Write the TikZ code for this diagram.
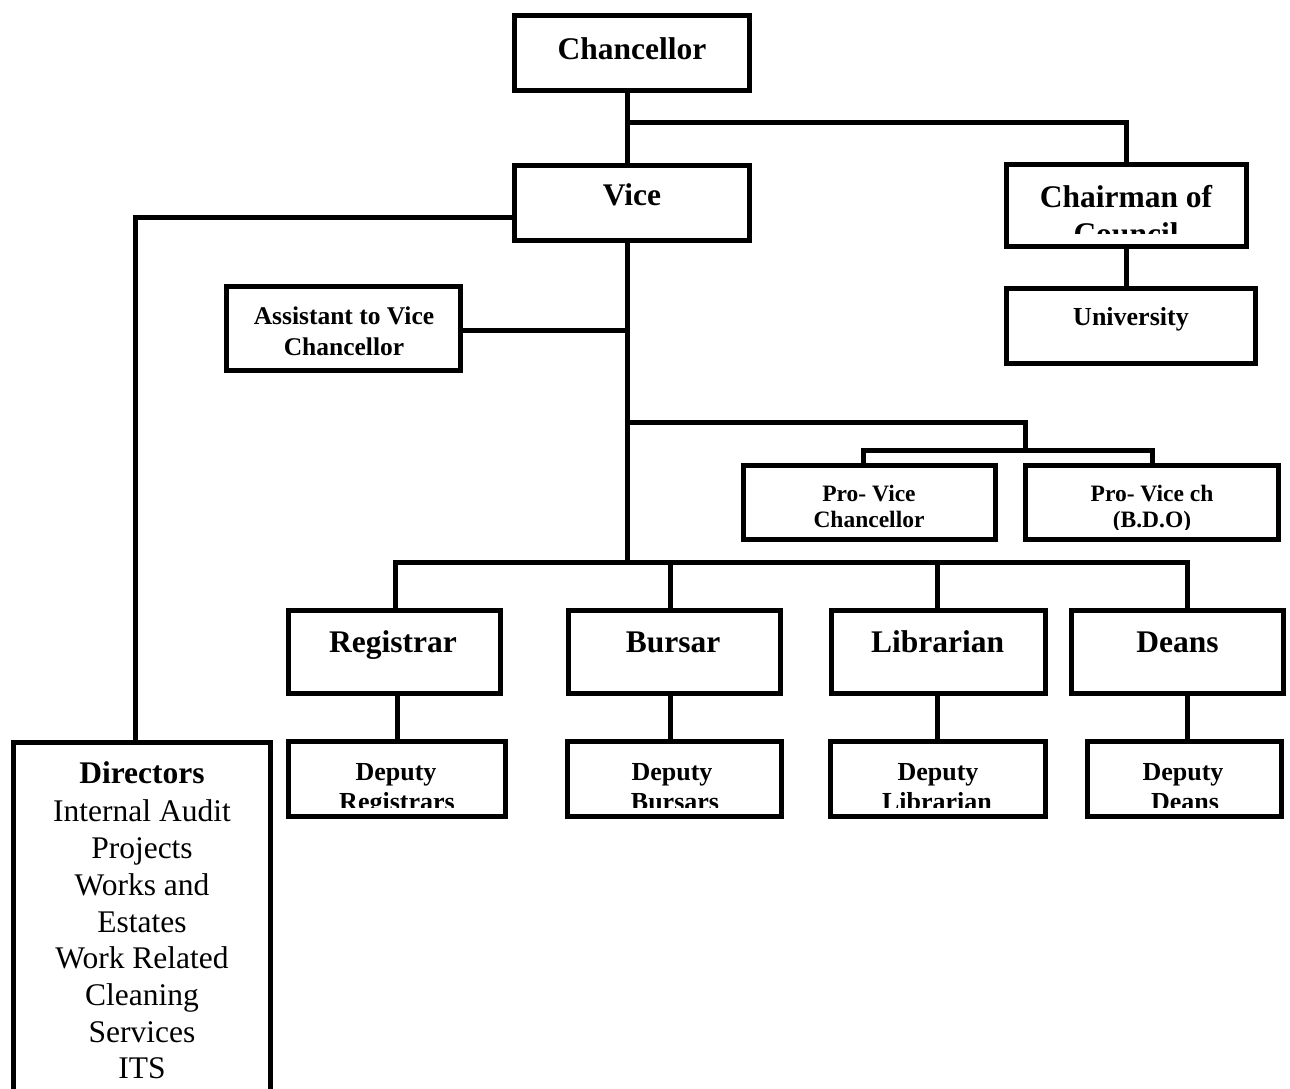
\documentclass[tikz,border=0pt]{standalone}
\usepackage{fontspec}
\setmainfont{Liberation Serif}
\usetikzlibrary{backgrounds}
\begin{document}
\begin{tikzpicture}[x=1pt,y=-1pt,
  box/.style={draw, line width=5pt, fill=white, inner sep=0pt, rectangle},
  conn/.style={line width=5pt},
  lbl/.style={anchor=base, inner sep=0pt},
  bigb/.style={lbl, font=\fontsize{31.5}{36.9}\selectfont\bfseries},
  bigr/.style={lbl, font=\fontsize{31.5}{36.9}\selectfont},
  midb/.style={lbl, font=\fontsize{26}{30}\selectfont\bfseries},
  asb/.style={lbl, font=\fontsize{25.5}{30}\selectfont\bfseries},
  smb/.style={lbl, font=\fontsize{23.5}{27}\selectfont\bfseries}]

\useasboundingbox (0,0) rectangle (1290,1088);
\clip (0,0) rectangle (1290,1088);

% ---- boxes ----
\node[box, minimum width=235pt, minimum height=75pt] (chan)  at (632,53) {};
\node[box, minimum width=235pt, minimum height=75pt] (vice)  at (632,203) {};
\node[box, minimum width=240pt, minimum height=82pt] (chair) at (1126.5,205.5) {};
\node[box, minimum width=249pt, minimum height=75pt] (univ)  at (1131,326) {};
\node[box, minimum width=234pt, minimum height=84pt] (asst)  at (343.5,328.5) {};
\node[box, minimum width=252pt, minimum height=74pt] (pvc)   at (869.5,502.5) {};
\node[box, minimum width=253pt, minimum height=74pt] (pvb)   at (1152,502.5) {};
\node[box, minimum width=212pt, minimum height=83pt] (reg)   at (394.5,652) {};
\node[box, minimum width=212pt, minimum height=83pt] (bur)   at (674.5,652) {};
\node[box, minimum width=214pt, minimum height=83pt] (lib)   at (938.5,652) {};
\node[box, minimum width=212pt, minimum height=83pt] (dean)  at (1177.5,652) {};
\node[box, minimum width=217pt, minimum height=75pt] (dreg)  at (397,779) {};
\node[box, minimum width=214pt, minimum height=75pt] (dbur)  at (674.5,779) {};
\node[box, minimum width=215pt, minimum height=75pt] (dlib)  at (938,779) {};
\node[box, minimum width=194pt, minimum height=75pt] (ddean) at (1184.5,779) {};
\node[box, minimum width=257pt, minimum height=365pt] (dir)  at (142,925) {};

% ---- junction points of the trunk and buses ----
\coordinate (tA) at (627,122);
\coordinate (tB) at (627,330);
\coordinate (tC) at (627,422);
\coordinate (tD) at (627,562);
\coordinate (pv) at (1025,450);
\coordinate (pvl) at (863,450);
\coordinate (pvr) at (1152,450);
\coordinate (dl) at (135,217);
\coordinate (bl) at (395,562);
\coordinate (bm) at (670,562);
\coordinate (lm) at (937,562);
\coordinate (br) at (1187,562);

% ---- connectors, kept behind the boxes ----
\begin{scope}[on background layer]
\draw[conn] (chan.south -| tA) -- (vice.north -| tA);
\draw[conn] (tA) -| (chair.north);
\draw[conn] (chair.south) -- (chair.south |- univ.north);
\draw[conn] (vice.west |- dl) -- (dl) -- (dir.north -| dl);
\draw[conn] (vice.south -| tD) -- (tD);
\draw[conn] (asst.east |- tB) -- (tB);
\draw[conn] (tC) -| (pv);
\draw[conn] (pvc.north -| pvl) -- (pvl) -- (pvr) -- (pvb.north -| pvr);
\draw[conn] (reg.north -| bl) -- (bl) -- (br) -- (dean.north -| br);
\draw[conn] (bm) -- (bur.north -| bm);
\draw[conn] (lm) -- (lib.north -| lm);
\draw[conn] (reg.south -| dreg.north) -- (dreg.north);
\draw[conn] (bur.south -| bm) -- (dbur.north -| bm);
\draw[conn] (lib.south -| lm) -- (dlib.north -| lm);
\draw[conn] (dean.south -| br) -- (ddean.north -| br);
\end{scope}

% ---- labels ----
\node[bigb] (chanT)  at (632,59)  {Chancellor};
\node[bigb] (viceT)  at (632,205) {Vice};
\node[bigb] (chairT) at (1126,207) {Chairman of};
\begin{scope}
  \clip (1000,160) rectangle (1250,233);
  \node[bigb] (chairT2) at (1126,244) {Council};
\end{scope}
\node[midb] (univT)  at (1131,325) {University};
\node[asb]  (asstT)  at (344,324) {Assistant to Vice};
\node[asb]  (asstT2) at (344,355) {Chancellor};
\node[smb]  (pvcT)   at (869,501) {Pro- Vice};
\node[smb]  (pvcT2)  at (869,527) {Chancellor};
\node[smb]  (pvbT)   at (1152,501) {Pro- Vice ch};
\begin{scope}
  \clip (1020,460) rectangle (1285,529);
  \node[smb] (pvbT2) at (1152,527) {(B.D.O)};
\end{scope}
\node[bigb] (regT)  at (393,652) {Registrar};
\node[bigb] (burT)  at (673,652) {Bursar};
\node[bigb] (libT)  at (937.5,652) {Librarian};
\node[bigb] (deanT) at (1177.5,652) {Deans};

\node[midb] (dregT)  at (396,780) {Deputy};
\node[midb] (dburT)  at (672,780) {Deputy};
\node[midb] (dlibT)  at (938,780) {Deputy};
\node[midb] (ddeanT) at (1183,780) {Deputy};
\begin{scope}
  \clip (280,740) rectangle (1290,807);
  \node[midb] (dregT2)  at (397,810) {Registrars};
  \node[midb] (dburT2)  at (675,810) {Bursars};
  \node[midb] (dlibT2)  at (937,810) {Librarian};
  \node[midb] (ddeanT2) at (1185,810) {Deans};
\end{scope}

\node[bigb] (dirT)  at (142,783)  {Directors};
\node[bigr] (dirT1) at (142,821)  {Internal Audit};
\node[bigr] (dirT2) at (142,858)  {Projects};
\node[bigr] (dirT3) at (142,895)  {Works and};
\node[bigr] (dirT4) at (142,932)  {Estates};
\node[bigr] (dirT5) at (142,968)  {Work Related};
\node[bigr] (dirT6) at (142,1005) {Cleaning};
\node[bigr] (dirT7) at (142,1042) {Services};
\node[bigr] (dirT8) at (142,1078) {ITS};
\end{tikzpicture}
\end{document}
